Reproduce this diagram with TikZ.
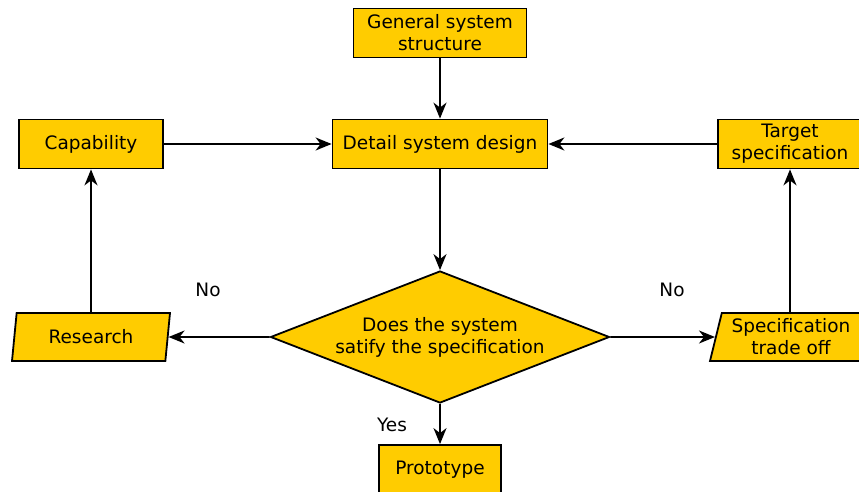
\documentclass[tikz,border=0pt]{standalone}
\usepackage{fontspec}
\setmainfont{DejaVu Sans}
\usetikzlibrary{shapes.geometric,arrows.meta}
\definecolor{boxfill}{HTML}{FFCC00}
\tikzset{
  box/.style={draw=black, fill=boxfill, line width=1.8pt, align=center,
    inner sep=0pt, minimum height=49pt},
  slanted/.style={box, trapezium, trapezium left angle=72, trapezium right angle=108,
    trapezium stretches body, minimum height=48pt},
  decision/.style={box, diamond, aspect=2.57, minimum width=339pt, minimum height=132pt},
  flow/.style={line width=1.8pt, -{Stealth[length=16pt,width=13pt,inset=5pt]}},
  tag/.style={inner sep=0pt}
}
\begin{document}
\begin{tikzpicture}[x=1pt,y=-1pt,font=\fontsize{18.5}{22}\selectfont]
\useasboundingbox (0,0) rectangle (859,492);
% boxes
\node[box, minimum width=173pt] (gen) at (440,33) {General system\\structure};
\node[box, minimum width=215pt] (detail) at (440,144) {Detail system design};
\node[box, minimum width=144pt] (cap) at (91,144) {Capability};
\node[box, minimum width=144pt] (target) at (790,144) {Target\\specification};
\node[decision] (dec) at (440,337) {Does the system\\satify the specification};
\node[slanted, minimum width=158pt] (research) at (91,337) {Research};
\node[slanted, minimum width=162pt] (trade) at (791,337) {Specification\\trade off};
\node[box, minimum width=122pt] (proto) at (440,469.5) {Prototype};

% connectors
\draw[flow] (gen) -- (detail);
\draw[flow] (cap) -- (detail);
\draw[flow] (target) -- (detail);
\draw[flow] (detail) -- (dec);
\draw[flow] (dec) -- (research);
\draw[flow] (dec) -- (trade);
\draw[flow] (research) -- (cap);
\draw[flow] (trade.north -| target) -- (target);
\draw[flow] (dec) -- (proto);

% branch labels
\node[tag] (nol) at (208,290) {No};
\node[tag] (nor) at (672,290) {No};
\node[tag] (yes) at (392,425) {Yes};
\end{tikzpicture}
\end{document}
